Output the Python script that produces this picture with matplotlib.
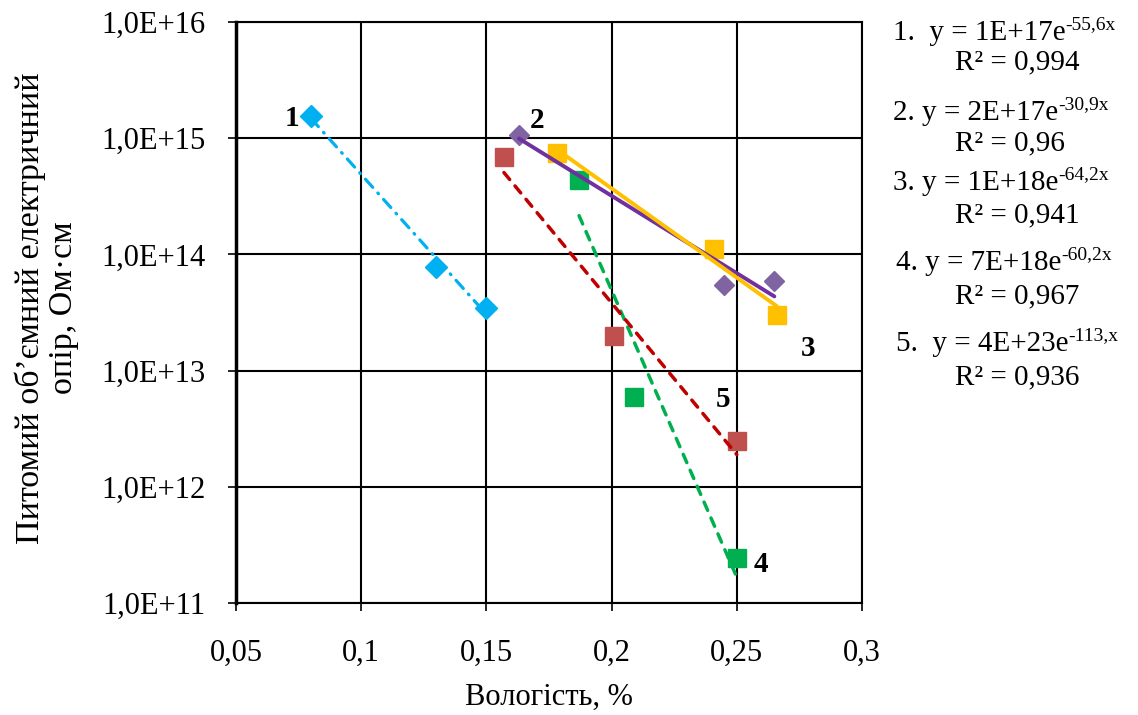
import numpy as np
import matplotlib
matplotlib.use("Agg")
import matplotlib.pyplot as plt
from matplotlib.text import Annotation
from matplotlib.ticker import FixedLocator, FixedFormatter

plt.rcParams['font.family'] = ['Liberation Serif', 'DejaVu Serif']

# ---- data ----
x1 = [0.08, 0.13, 0.15]
y1 = [1.55e15, 7.8e13, 3.45e13]
x2 = [0.163, 0.245, 0.265]
y2 = [1.07e15, 5.5e13, 5.9e13]
x3 = [0.178, 0.241, 0.266]
y3 = [7.5e14, 1.11e14, 3.0e13]
x4 = [0.187, 0.209, 0.250]
y4 = [4.4e14, 5.9e12, 2.45e11]
x5 = [0.157, 0.201, 0.250]
y5 = [6.9e14, 2.0e13, 2.5e12]

series_labels = ["1", "2", "3", "4", "5"]
eq_base = ["1.  y = 1E+17e", "2. y = 2E+17e", "3. y = 1E+18e",
           "4. y = 7E+18e", "5.  y = 4E+23e"]
eq_sup = ["-55,6x", "-30,9x", "-64,2x", "-60,2x", "-113,x"]
eq_r2 = ["R² = 0,994", "R² = 0,96", "R² = 0,941", "R² = 0,967", "R² = 0,936"]

x_ticks = [0.05, 0.1, 0.15, 0.2, 0.25, 0.3]
x_ticklabels = ["0,05", "0,1", "0,15", "0,2", "0,25", "0,3"]
y_ticks = [1e11, 1e12, 1e13, 1e14, 1e15, 1e16]
y_ticklabels = ["1,0E+11", "1,0E+12", "1,0E+13", "1,0E+14", "1,0E+15", "1,0E+16"]

W, H = 1138, 715
fig = plt.figure(figsize=(W / 100, H / 100), dpi=100)
ax = fig.add_axes([236 / W, 1 - 603 / H, 626 / W, 581 / H])
ax.set_yscale('log')
ax.set_xlim(0.05, 0.3)
ax.set_ylim(1e11, 1e16)


def trend(x, y):
    x = np.asarray(x)
    k, b = np.polyfit(x, np.log(np.asarray(y)), 1)
    xs = np.linspace(x.min(), x.max(), 50)
    return xs, np.exp(b + k * xs)


specs = [
    (x1, y1, 'D', 11, '#00B0F0', '#00B0F0', (0, (3.4, 2.4, 0.3, 2.4)), 2.3),
    (x2, y2, 'D', 10.5, '#8064A2', '#7030A0', '-', 2.8),
    (x3, y3, 's', 13, '#FFC000', '#FFC000', '-', 2.8),
    (x4, y4, 's', 13, '#00B050', '#00B050', (0, (2.6, 2.4)), 2.5),
    (x5, y5, 's', 13, '#C0504D', '#C00000', (0, (2.6, 2.4)), 2.5),
]
for x, y, mk, ms, mc, lc, ls, lw in specs:
    ax.plot(x, y, linestyle='none', marker=mk, markersize=ms,
            markerfacecolor=mc, markeredgecolor=mc, zorder=3)
    xs, ys = trend(x, y)
    ax.plot(xs, ys, color=lc, linestyle=ls, linewidth=lw,
            dash_capstyle='round', solid_capstyle='round', zorder=4)

# series number labels (offsets in pixels from a marker)
label_pos = [(x1[0], y1[0], -19, -2), (x2[0], y2[0], 18, 14),
             (x3[-1], y3[-1], 31, -33), (x4[-1], y4[-1], 24, -7),
             (x5[-1], y5[-1], -14, 41)]
for lab, (lx, ly, dx, dy) in zip(series_labels, label_pos):
    ax.annotate(lab, (lx, ly), xytext=(dx, dy), textcoords='offset pixels',
                ha='center', va='center', fontsize=21, fontweight='bold', zorder=5)

ax.xaxis.set_major_locator(FixedLocator(x_ticks))
ax.xaxis.set_major_formatter(FixedFormatter(x_ticklabels))
ax.yaxis.set_major_locator(FixedLocator(y_ticks))
ax.yaxis.set_major_formatter(FixedFormatter(y_ticklabels))
ax.yaxis.set_minor_locator(FixedLocator([]))
ax.tick_params(axis='both', which='major', direction='out', length=6, width=1.2,
               labelsize=22, colors='black')
ax.tick_params(axis='y', pad=16)
ax.tick_params(axis='x', pad=20)
ax.grid(True, which='major', color='black', linewidth=1.5)
for s in ax.spines.values():
    s.set_color('black')
    s.set_linewidth(1.5)
ax.spines['left'].set_linewidth(2.5)

fig.text(549 / W, 1 - 697 / H, "Вологість, %", ha='center', va='center', fontsize=22)
fig.text(47 / W, 1 - 308 / H, "Питомий об’ємний електричний\nопір, Ом·см",
         rotation=90, ha='center', va='center', fontsize=24.5,
         linespacing=1.1, multialignment='center')

# equations on the right
eq_y = [(33, 62), (113, 143), (183, 215), (263, 296), (344, 377)]
eq_x = [893, 893, 893, 896, 896]
for base, sup, r2, (ya, yb), ex in zip(eq_base, eq_sup, eq_r2, eq_y, eq_x):
    t = fig.text(ex / W, 1 - ya / H, base, ha='left', va='center', fontsize=21)
    fig.add_artist(Annotation(sup, xy=(1.0, 0.5), xycoords=t,
                              ha='left', va='bottom', fontsize=14))
    fig.text(955 / W, 1 - yb / H, r2, ha='left', va='center', fontsize=21)

fig.savefig("out.png", dpi=100)
